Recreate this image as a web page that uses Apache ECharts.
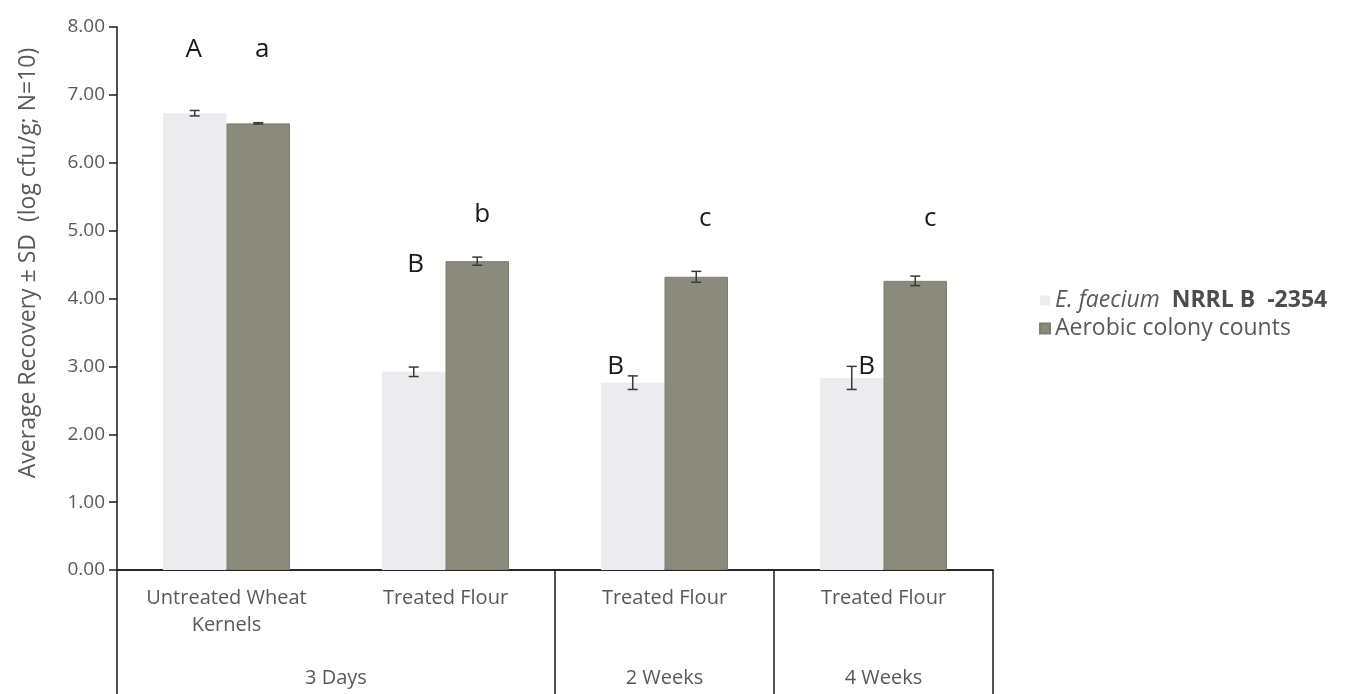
<!DOCTYPE html>
<html>
<head>
<meta charset="utf-8">
<script src="https://cdn.jsdelivr.net/npm/echarts@6/dist/echarts.min.js"></script>
<style>
  html, body { margin: 0; padding: 0; background: #fff; }
  #chart { width: 1346px; height: 694px; }
</style>
</head>
<body>
<div id="chart"></div>
<script>
// Sample categories and their sampling-time groups
const categories = ['Untreated Wheat\nKernels', 'Treated Flour', 'Treated Flour', 'Treated Flour'];
const groups = ['3 Days', '2 Weeks', '4 Weeks'];
const groupSpans = [2, 1, 1];

// Mean recovery (log cfu/g) and standard deviations
const efaecium = [6.73, 2.92, 2.76, 2.83];
const efaeciumSD = [0.04, 0.07, 0.10, 0.17];
const aerobic = [6.58, 4.55, 4.32, 4.26];
const aerobicSD = [0.01, 0.06, 0.08, 0.07];

// Significance letters and the heights they sit at
const efaeciumLetters = ['A', 'B', 'B', 'B'];
const efaeciumLetterY = [7.66, 4.50, 2.99, 2.99];
const aerobicLetters = ['a', 'b', 'c', 'c'];
const aerobicLetterY = [7.66, 5.23, 5.18, 5.18];

const yTicks = [0, 1, 2, 3, 4, 5, 6, 7, 8];

const FONT = '"Open Sans", "Noto Sans", sans-serif';
const GREY_TEXT = '#595959';
const CAT_GAP = 0.42;
// Sideways nudge (px) of each letter so it clears its error bar
const LETTER_NUDGE = [[-1, 2, -17, 15], [4, 5, 9, 15]];

// Lower axis row: half-category slots with labels at group centres
const halfSlots = categories.length * 2 + 1;
const groupAxisData = new Array(halfSlots).fill('');
const groupBoundaries = new Set([0]);
let pos = 0;
groups.forEach((g, i) => {
  groupAxisData[pos * 2 + groupSpans[i]] = g;
  pos += groupSpans[i];
  groupBoundaries.add(pos * 2);
});

function barOffset(api, side) {
  const band = api.size([1, 0])[0];
  const barW = band * (1 - CAT_GAP) / 2;
  return (side ? 0.5 : -0.5) * barW;
}

function errorBarItem(params, api) {
  const cat = api.value(0), mean = api.value(1), sd = api.value(2), side = api.value(3);
  const dx = barOffset(api, side);
  const top = api.coord([cat, mean + sd]);
  const bot = api.coord([cat, mean - sd]);
  const x = top[0] + dx;
  const cap = 5;
  const style = { stroke: '#3a3a3a', lineWidth: 1.5 };
  return {
    type: 'group',
    children: [
      { type: 'line', shape: { x1: x, y1: top[1], x2: x, y2: bot[1] }, style },
      { type: 'line', shape: { x1: x - cap, y1: top[1], x2: x + cap, y2: top[1] }, style },
      { type: 'line', shape: { x1: x - cap, y1: bot[1], x2: x + cap, y2: bot[1] }, style }
    ]
  };
}

function letterItem(params, api) {
  const cat = api.value(0), y = api.value(1), side = api.value(2);
  const p = api.coord([cat, y]);
  const text = side ? aerobicLetters[cat] : efaeciumLetters[cat];
  return {
    type: 'text',
    x: p[0] + barOffset(api, side) + LETTER_NUDGE[side][cat],
    y: p[1],
    style: {
      text: text,
      fill: '#1a1a1a',
      font: '26px ' + FONT,
      align: 'center',
      verticalAlign: 'middle'
    }
  };
}

const errorData = [];
efaecium.forEach((v, i) => errorData.push([i, v, efaeciumSD[i], 0]));
aerobic.forEach((v, i) => errorData.push([i, v, aerobicSD[i], 1]));

const letterData = [];
efaeciumLetterY.forEach((v, i) => letterData.push([i, v, 0]));
aerobicLetterY.forEach((v, i) => letterData.push([i, v, 1]));

const chart = echarts.init(document.getElementById('chart'));
chart.setOption({
  animation: false,
  backgroundColor: '#ffffff',
  textStyle: { fontFamily: FONT },
  grid: { left: 117, right: 353, top: 27, bottom: 124 },
  legend: {
    orient: 'vertical',
    left: 1034,
    top: 283,
    itemWidth: 10,
    itemHeight: 10,
    itemGap: 3,
    icon: 'rect',
    data: ['E. faecium NRRL B -2354', 'Aerobic colony counts'],
    formatter: function (name) {
      if (name.indexOf('E. faecium') === 0) return '{i|E. faecium}  {b|NRRL B  -2354}';
      return name;
    },
    textStyle: {
      color: GREY_TEXT,
      fontSize: 23,
      lineHeight: 25,
      fontFamily: FONT,
      rich: {
        i: { fontStyle: 'italic', color: GREY_TEXT, fontSize: 23, lineHeight: 25, fontFamily: FONT },
        b: { fontWeight: 'bold', color: '#4d4d4d', fontSize: 23, lineHeight: 25, fontFamily: FONT }
      }
    }
  },
  xAxis: [
    {
      type: 'category',
      data: categories,
      position: 'bottom',
      axisLine: { show: true, lineStyle: { color: '#1a1a1a', width: 1.5 } },
      axisTick: { show: false },
      axisLabel: {
        color: GREY_TEXT,
        fontSize: 20,
        fontFamily: FONT,
        margin: 15,
        lineHeight: 27,
        interval: 0
      }
    },
    {
      type: 'category',
      data: groupAxisData,
      position: 'bottom',
      boundaryGap: false,
      axisLine: { show: true, lineStyle: { color: '#1a1a1a', width: 1.5 } },
      axisTick: {
        show: true,
        length: 130,
        interval: function (index) { return groupBoundaries.has(index); },
        lineStyle: { color: '#1a1a1a', width: 1.5 }
      },
      axisLabel: {
        color: GREY_TEXT,
        fontSize: 20,
        fontFamily: FONT,
        margin: 98,
        interval: 0
      }
    }
  ],
  yAxis: {
    type: 'value',
    min: yTicks[0],
    max: yTicks[yTicks.length - 1],
    interval: 1,
    axisLine: { show: true, lineStyle: { color: '#1a1a1a', width: 1.5 } },
    axisTick: { show: true, length: 8, lineStyle: { color: '#1a1a1a', width: 1.5 } },
    splitLine: { show: false },
    axisLabel: {
      color: GREY_TEXT,
      fontSize: 19,
      fontFamily: FONT,
      margin: 12,
      formatter: v => v.toFixed(2)
    }
  },
  graphic: [
    {
      type: 'text',
      x: 28,
      y: 263,
      rotation: Math.PI / 2,
      style: {
        text: 'Average Recovery ± SD  (log cfu/g; N=10)',
        fill: GREY_TEXT,
        font: '23px ' + FONT,
        align: 'center',
        verticalAlign: 'middle'
      }
    }
  ],
  series: [
    {
      name: 'E. faecium NRRL B -2354',
      type: 'bar',
      data: efaecium,
      barGap: '0%',
      barCategoryGap: (CAT_GAP * 100) + '%',
      itemStyle: { color: '#ececef' }
    },
    {
      name: 'Aerobic colony counts',
      type: 'bar',
      data: aerobic,
      barGap: '0%',
      barCategoryGap: (CAT_GAP * 100) + '%',
      itemStyle: { color: '#8a8b7d', borderColor: '#7c7d70', borderWidth: 1 }
    },
    {
      type: 'custom',
      renderItem: errorBarItem,
      data: errorData,
      z: 5,
      silent: true
    },
    {
      type: 'custom',
      renderItem: letterItem,
      data: letterData,
      z: 6,
      silent: true
    }
  ]
});
</script>
</body>
</html>
